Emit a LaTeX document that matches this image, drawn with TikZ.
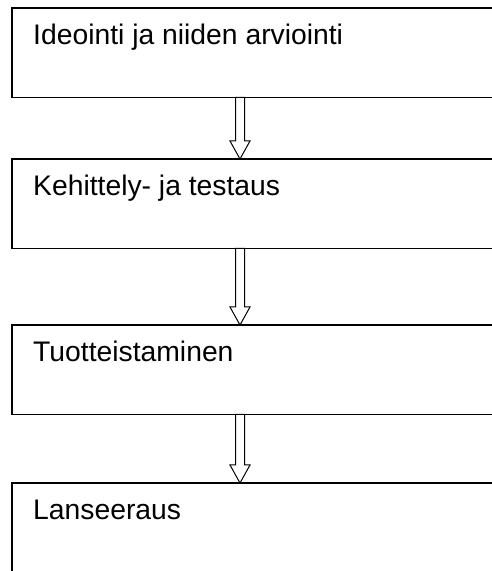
\documentclass[tikz,border=0pt]{standalone}
\usepackage{fontspec}
\setmainfont{Liberation Sans}
\usetikzlibrary{calc}
\tikzset{
  stage/.style={draw, line width=1.4pt, rectangle, anchor=north west, minimum width=520pt, minimum height=89.5pt, inner sep=0pt, outer sep=0pt},
  stagetext/.style={anchor=base west, inner sep=0pt, font=\fontsize{28.3}{34}\selectfont},
  blockarr/.style={draw, line width=1pt, fill=white, line join=miter}
}
\newcommand{\flowarrow}[2]{%
  \draw[blockarr] let \p1=(#1.south), \p2=(#2.north) in
    (235.5pt,\y1) -- (235.5pt,\y2+18pt) -- (230pt,\y2+18pt) -- (240pt,\y2)
    -- (250pt,\y2+18pt) -- (244.5pt,\y2+18pt) -- (244.5pt,\y1) -- cycle;}
\begin{document}
\begin{tikzpicture}[x=1pt,y=1pt]
\useasboundingbox (0,0) rectangle (492,571);
\clip (0,0) rectangle (492,571);

\node [stage] (s1) at (12,563) {};
\node [stage] (s2) at (12,412) {};
\node [stage] (s3) at (12,246) {};
\node [stage] (s4) at (12,88)  {};

\node [stagetext] (t1) at (33,526) {Ideointi ja niiden arviointi};
\node [stagetext] (t2) at (33,375) {Kehittely- ja testaus};
\node [stagetext] (t3) at (33,209) {Tuotteistaminen};
\node [stagetext] (t4) at (33,51)  {Lanseeraus};

\flowarrow{s1}{s2}
\flowarrow{s2}{s3}
\flowarrow{s3}{s4}
\end{tikzpicture}
\end{document}
